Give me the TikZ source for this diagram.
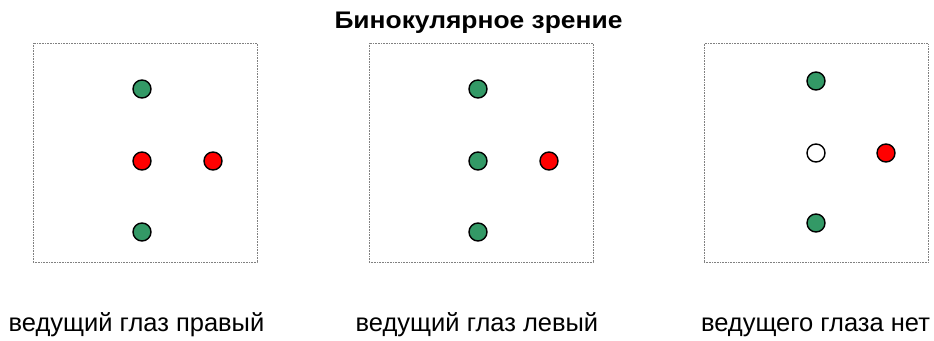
\documentclass[tikz,border=0pt]{standalone}
\usepackage{fontspec}
\setmainfont{Liberation Sans}
\newfontfamily\titlefont[FakeStretch=1.1]{Liberation Sans}
\definecolor{eyegreen}{HTML}{339966}
\tikzset{
  panel/.style={draw=gray, densely dotted, line width=0.6pt, minimum width=224pt, minimum height=219pt, inner sep=0},
  dot/.style={circle, draw, line width=1.4pt, minimum size=18pt, inner sep=0},
  caption/.style={anchor=base, font=\fontsize{25.5}{28}\selectfont}
}
\begin{document}
\begin{tikzpicture}[x=1pt, y=-1pt]
      \useasboundingbox (0,0) rectangle (934,340);
      \node[anchor=base, font=\titlefont\bfseries\fontsize{24}{28}\selectfont] (title) at (478.5,28) {Бинокулярное зрение};
      % left panel
      \node[panel] (boxA) at (145,152.5) {};
      \node[dot, fill=eyegreen] (a1) at (142,89) {};
      \node[dot, fill=red] (a2) at (142,161) {};
      \node[dot, fill=eyegreen] (a3) at (142,232) {};
      \node[dot, fill=red] (a4) at (213,161) {};
      % middle panel
      \node[panel] (boxB) at (481,152.5) {};
      \node[dot, fill=eyegreen] (b1) at (478,89) {};
      \node[dot, fill=eyegreen] (b2) at (478,161) {};
      \node[dot, fill=eyegreen] (b3) at (478,232) {};
      \node[dot, fill=red] (b4) at (549,161) {};
      % right panel
      \node[panel] (boxC) at (816,153) {};
      \node[dot, fill=eyegreen] (c1) at (816,81) {};
      \node[dot, fill=white] (c2) at (816,153) {};
      \node[dot, fill=eyegreen] (c3) at (816,223) {};
      \node[dot, fill=red] (c4) at (886,153) {};
      \node[caption] (capA) at (136.5,331) {ведущий глаз правый};
      \node[caption] (capB) at (477,331) {ведущий глаз левый};
      \node[caption] (capC) at (815.5,331) {ведущего глаза нет};
    \end{tikzpicture}
\end{document}
